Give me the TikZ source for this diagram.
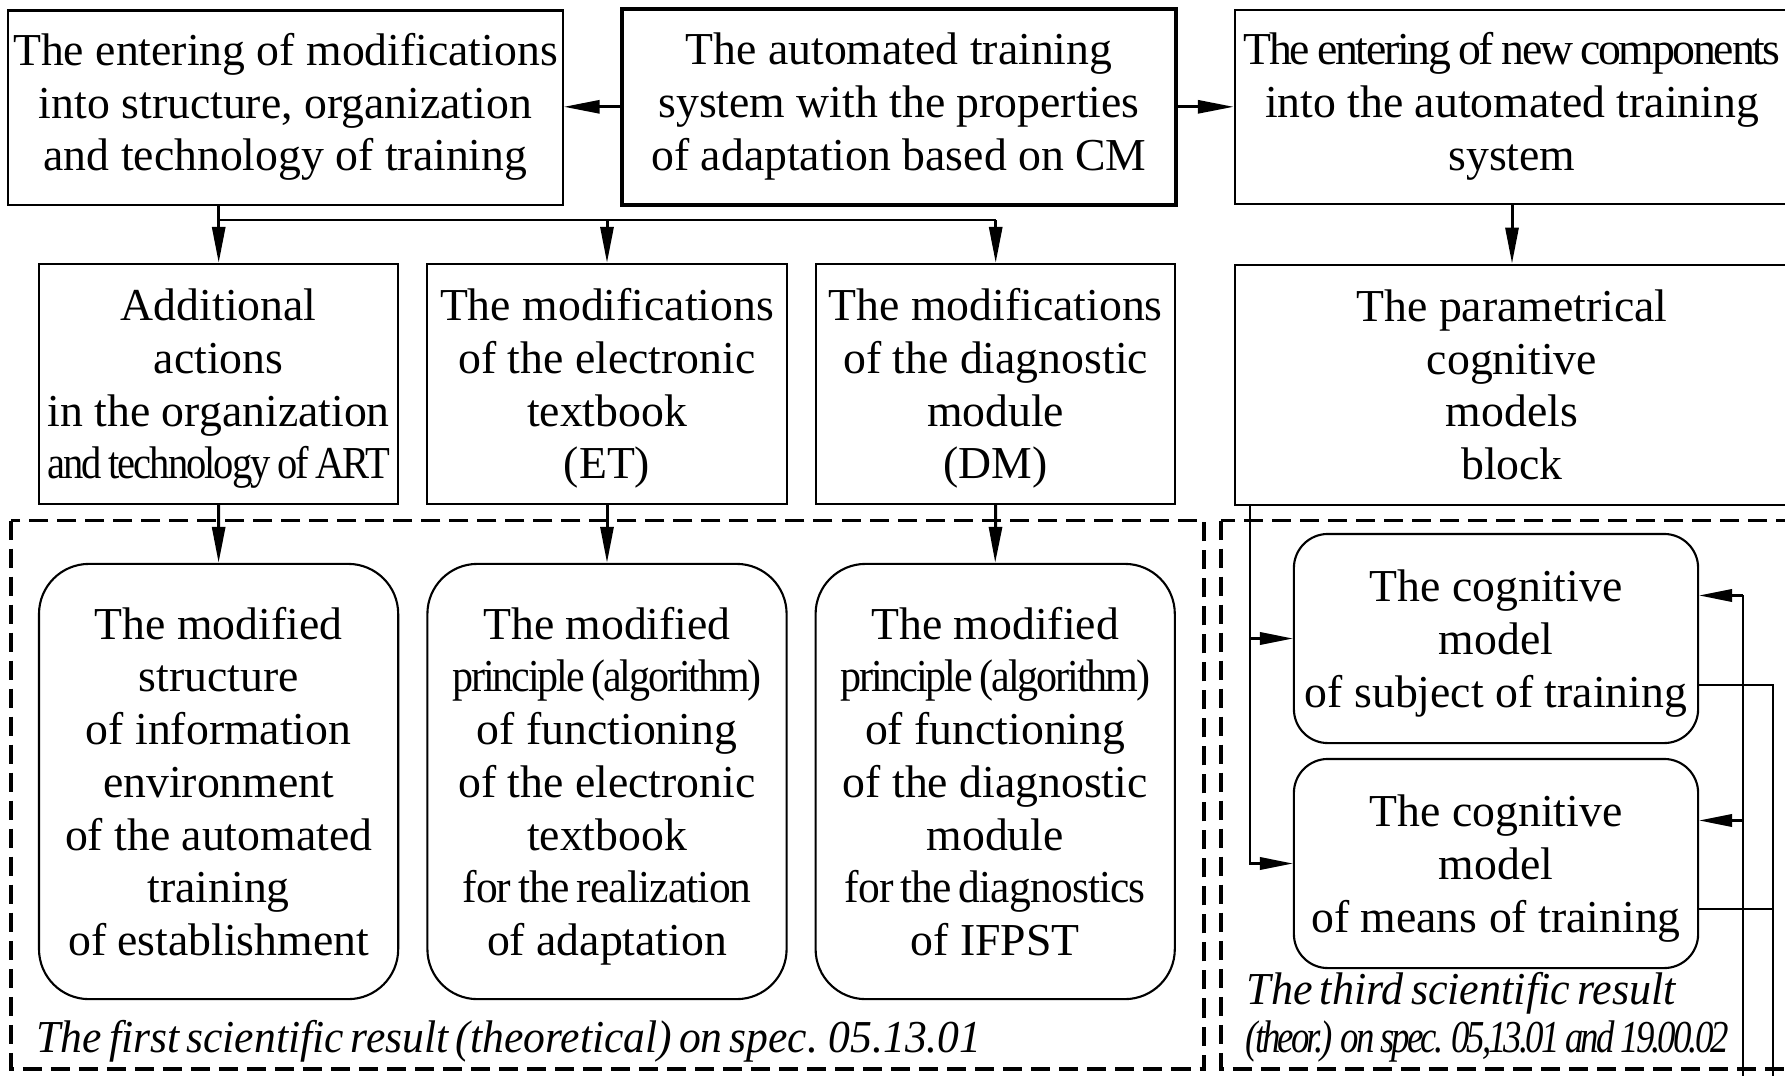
\documentclass[tikz,border=0pt]{standalone}
\usepackage{fontspec}
\setmainfont{Liberation Serif}
\usepackage{graphicx}
\usetikzlibrary{arrows.meta}

% tighten a line of text and fit it to a given width, keeping its height
\newcommand\squeeze[3][-5]{\resizebox{#2}{\height}{\addfontfeatures{LetterSpace=#1}\spaceskip=0.16em\relax #3}}
% fixed heights for the first and last line of a box text
\newcommand\hs{\rule{0pt}{13.5pt}}
\newcommand\ths{\rule{0pt}{10.5pt}}
\newcommand\fs{\rule[-4.5pt]{0pt}{4.5pt}}

\begin{document}
\begin{tikzpicture}[x=0.01cm, y=-0.01cm,
  font=\fontsize{13}{15}\selectfont,
  boxbase/.style={draw, line width=0.6pt, inner sep=0pt, align=center},
  topbox/.style={boxbase, minimum width=5.54cm, minimum height=1.94cm},
  mainbox/.style={topbox, line width=1.15pt, minimum height=1.96cm},
  midbox/.style={boxbase, minimum width=3.59cm, minimum height=2.40cm},
  widebox/.style={boxbase, minimum width=5.54cm, minimum height=2.40cm},
  roundbox/.style={boxbase, rounded corners=0.5cm, minimum width=3.59cm, minimum height=4.35cm},
  cogbox/.style={boxbase, rounded corners=0.34cm, minimum width=4.04cm, minimum height=2.09cm},
  region/.style={draw, line width=0.9pt, dash pattern=on 0.19cm off 0.09cm},
  arr/.style={line width=0.85pt, -{Triangle[length=0.36cm, width=0.13cm]}},
  thinarr/.style={line width=0.6pt, -{Triangle[length=0.33cm, width=0.125cm]}},
  link/.style={line width=0.6pt},
  note/.style={font=\fontsize{13}{15}\selectfont\itshape, inner sep=0pt, anchor=base west}
]
\clip (0,0) rectangle (1785,1075);

% dashed result regions
\draw[region] (11,520.5) rectangle (1204,1069);
\draw[region] (1221,520.5) rectangle (1800,1069);

% top row
\node[topbox] (A) at (285.5,107.5)
  {\ths The entering of modifications\\into structure, organization\\and technology of training\fs};
\node[mainbox] (B) at (899,106.8)
  {\ths The automated training\\system with the properties\\of adaptation based on CM\fs};
\node[topbox] (C) at (1512,107)
  {\ths\squeeze{5.37cm}{The entering of new components}\\into the automated training\\system\fs};

% second row
\node[midbox] (D) at (218.7,384)
  {\hs Additional\\actions\\in the organization\\\squeeze{3.42cm}{and technology of ART}\fs};
\node[midbox] (ET) at (607,384)
  {\hs The modifications\\of the electronic\\textbook\\(ET)\fs};
\node[midbox] (DM) at (995.7,384)
  {\hs The modifications\\of the diagnostic\\module\\(DM)\fs};
\node[widebox] (E) at (1512,384.7)
  {\hs The parametrical\\cognitive\\models\\block\fs};

% modified components
\node[roundbox] (R1) at (218.6,781.5)
  {\hs The modified\\structure\\of information\\environment\\of the automated\\training\\of establishment\fs};
\node[roundbox] (R2) at (607,781.5)
  {\hs The modified\\\squeeze{3.09cm}{principle (algorithm)}\\of functioning\\of the electronic\\textbook\\\squeeze[-2]{2.89cm}{for the realization}\\of adaptation\fs};
\node[roundbox] (R3) at (995.2,781.5)
  {\hs The modified\\\squeeze{3.10cm}{principle (algorithm)}\\of functioning\\of the diagnostic\\module\\\squeeze[-2]{3.01cm}{for the diagnostics}\\of IFPST\fs};

% cognitive models
\node[cogbox] (R4) at (1496,638.5)
  {\hs The cognitive\\model\\of subject of training\fs};
\node[cogbox] (R5) at (1496,863.5)
  {\hs The cognitive\\model\\of means of training\fs};

% region captions
\node[note] (first) at (36,1052)
  {\squeeze[0]{9.44cm}{The first scientific result (theoretical) on spec. 05.13.01}};
\node[note] (third1) at (1246,1004)
  {\squeeze[0]{4.29cm}{The third scientific result}};
\node[note] (third2) at (1245,1052)
  {\squeeze[-8]{4.83cm}{(theor.) on spec. 05,13.01 and 19.00.02}};

% top connectors
\draw[arr] (B.west) -- (A.east |- B.west);
\draw[arr] (B.east) -- (C.west |- B.east);

% distribution bus under the left box
\coordinate (bus) at (0,220);
\draw[arr] (A.south -| D.north) -- (D.north);
\draw[link] (D.north |- bus) -- (DM.north |- bus);
\draw[arr] (ET.north |- bus) -- (ET.north);
\draw[arr] (DM.north |- bus) -- (DM.north);
\draw[arr] (C.south) -- (E.north);

% second row down into the modified components
\draw[arr] (D.south) -- (R1.north);
\draw[arr] (ET.south) -- (R2.north);
\draw[arr] (DM.south) -- (R3.north);

% block of models feeding the cognitive models
\coordinate (feed) at (1250,0);
\draw[thinarr] (E.south -| feed) |- (R5.west);
\draw[thinarr] (R4.west -| feed) -- (R4.west);

% feedback loops on the right
\coordinate (r4in) at ([yshift=0.43cm]R4.east);
\coordinate (r4out) at ([yshift=-0.463cm]R4.east);
\coordinate (r5in) at ([yshift=0.43cm]R5.east);
\coordinate (r5out) at ([yshift=-0.456cm]R5.east);
\coordinate (retfoot) at (1743,1090);
\coordinate (outfoot) at (1772.8,1090);
\draw[link] (retfoot) -- (retfoot |- r4in);
\draw[thinarr] (retfoot |- r4in) -- (r4in);
\draw[thinarr] (retfoot |- r5in) -- (r5in);
\draw[link] (r4out) -| (outfoot);
\draw[link] (r5out) -- (outfoot |- r5out);
\end{tikzpicture}
\end{document}
